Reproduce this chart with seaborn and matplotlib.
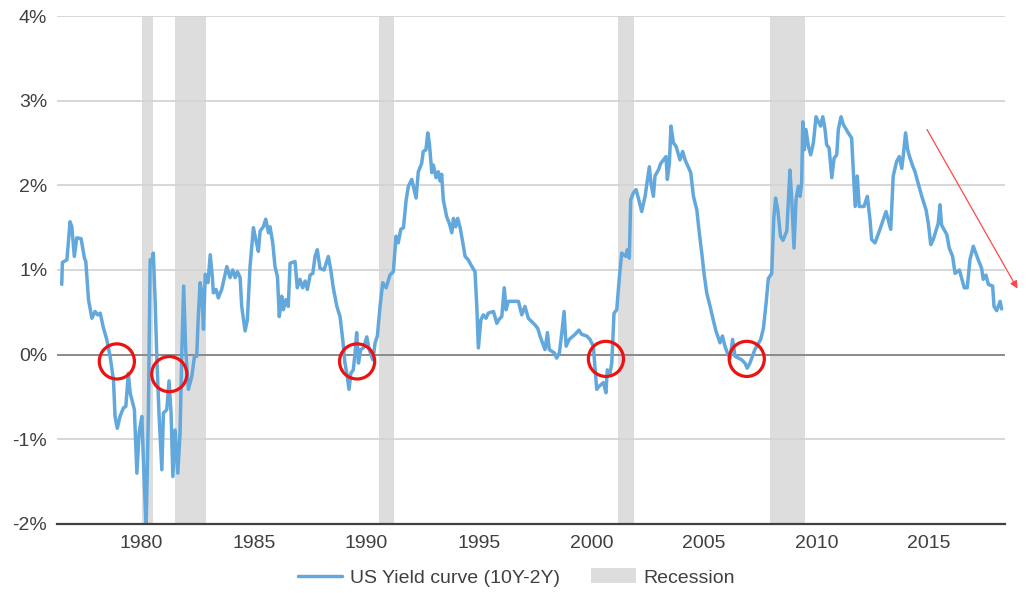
import matplotlib
matplotlib.use('Agg')
import matplotlib.pyplot as plt
from matplotlib.lines import Line2D
from matplotlib.patches import Patch
import numpy as np
import pandas as pd
import seaborn as sns

# US yield curve spread 10Y-2Y (%)
years = [1976.45, 1976.48, 1976.68, 1976.82, 1976.90, 1977.01, 1977.12, 1977.31, 1977.46, 1977.52,
         1977.64, 1977.79, 1977.93, 1978.05, 1978.16, 1978.30, 1978.45, 1978.60, 1978.75, 1978.82,
         1978.92, 1979.04, 1979.19, 1979.30, 1979.41, 1979.49, 1979.68, 1979.79, 1979.89, 1980.01,
         1980.08, 1980.20, 1980.30, 1980.38, 1980.45, 1980.52, 1980.60, 1980.68, 1980.78, 1980.90,
         1980.97, 1981.12, 1981.22, 1981.31, 1981.39, 1981.49, 1981.61, 1981.71, 1981.79, 1981.87,
         1981.96, 1982.08, 1982.23, 1982.35, 1982.45, 1982.52, 1982.60, 1982.67, 1982.75, 1982.83,
         1982.95, 1983.05, 1983.15, 1983.19, 1983.31, 1983.41, 1983.56, 1983.79, 1983.93, 1984.05,
         1984.16, 1984.26, 1984.38, 1984.45, 1984.60, 1984.70, 1984.82, 1984.97, 1985.09, 1985.19,
         1985.27, 1985.41, 1985.52, 1985.64, 1985.71, 1985.83, 1985.93, 1986.04, 1986.12, 1986.23,
         1986.30, 1986.42, 1986.52, 1986.60, 1986.82, 1986.92, 1987.04, 1987.16, 1987.27, 1987.37,
         1987.49, 1987.61, 1987.71, 1987.81, 1987.93, 1988.11, 1988.30, 1988.41, 1988.52, 1988.68,
         1988.82, 1988.94, 1989.04, 1989.12, 1989.22, 1989.30, 1989.41, 1989.49, 1989.56, 1989.64,
         1989.74, 1989.86, 1990.01, 1990.12, 1990.28, 1990.38, 1990.48, 1990.60, 1990.72, 1990.87,
         1991.04, 1991.19, 1991.31, 1991.41, 1991.52, 1991.64, 1991.76, 1991.86, 1992.01, 1992.08,
         1992.20, 1992.30, 1992.45, 1992.52, 1992.64, 1992.72, 1992.79, 1992.90, 1992.97, 1993.09,
         1993.19, 1993.27, 1993.34, 1993.41, 1993.56, 1993.68, 1993.79, 1993.86, 1993.96, 1994.05,
         1994.16, 1994.28, 1994.38, 1994.52, 1994.64, 1994.82, 1994.90, 1994.97, 1995.08, 1995.19,
         1995.31, 1995.41, 1995.64, 1995.79, 1995.90, 1996.01, 1996.12, 1996.20, 1996.30, 1996.45,
         1996.75, 1996.90, 1997.04, 1997.19, 1997.49, 1997.61, 1997.71, 1997.93, 1998.04, 1998.12,
         1998.35, 1998.45, 1998.57, 1998.68, 1998.78, 1998.87, 1999.01, 1999.27, 1999.44, 1999.56,
         1999.79, 1999.93, 2000.08, 2000.16, 2000.23, 2000.35, 2000.53, 2000.64, 2000.70, 2000.82,
         2000.90, 2001.00, 2001.12, 2001.24, 2001.34, 2001.53, 2001.59, 2001.68, 2001.74, 2001.86,
         2001.98, 2002.08, 2002.23, 2002.38, 2002.57, 2002.64, 2002.75, 2002.82, 2002.97, 2003.08,
         2003.31, 2003.37, 2003.46, 2003.53, 2003.64, 2003.76, 2003.93, 2004.05, 2004.16, 2004.41,
         2004.53, 2004.68, 2004.79, 2004.90, 2005.00, 2005.12, 2005.27, 2005.41, 2005.53, 2005.71,
         2005.82, 2005.93, 2006.04, 2006.16, 2006.27, 2006.38, 2006.67, 2006.82, 2006.92, 2007.04,
         2007.26, 2007.52, 2007.64, 2007.76, 2007.86, 2008.01, 2008.10, 2008.18, 2008.28, 2008.40,
         2008.51, 2008.68, 2008.82, 2008.90, 2009.00, 2009.09, 2009.19, 2009.27, 2009.34, 2009.39,
         2009.46, 2009.53, 2009.64, 2009.74, 2009.86, 2009.98, 2010.18, 2010.28, 2010.38, 2010.45,
         2010.56, 2010.68, 2010.78, 2010.90, 2010.97, 2011.09, 2011.19, 2011.41, 2011.56, 2011.64,
         2011.72, 2011.81, 2011.90, 2012.11, 2012.26, 2012.38, 2012.45, 2012.60, 2012.82, 2013.09,
         2013.30, 2013.41, 2013.56, 2013.68, 2013.79, 2013.86, 2013.96, 2014.05, 2014.16, 2014.26,
         2014.38, 2014.45, 2014.68, 2014.87, 2014.97, 2015.08, 2015.19, 2015.41, 2015.49, 2015.56,
         2015.79, 2015.90, 2016.05, 2016.16, 2016.35, 2016.57, 2016.70, 2016.82, 2016.97, 2017.19,
         2017.34, 2017.41, 2017.53, 2017.64, 2017.83, 2017.89, 2018.01, 2018.16, 2018.23]
spread = [0.83, 1.09, 1.12, 1.57, 1.51, 1.16, 1.38, 1.37, 1.14, 1.10,
          0.65, 0.43, 0.51, 0.47, 0.49, 0.32, 0.18, -0.02, -0.30, -0.73,
          -0.87, -0.73, -0.63, -0.61, -0.22, -0.45, -0.65, -1.40, -0.92, -0.73,
          -1.24, -2.05, -0.73, 1.12, 1.10, 1.20, 0.65, -0.06, -0.73, -1.36,
          -0.69, -0.65, -0.31, -0.69, -1.44, -0.89, -1.40, -0.92, 0.06, 0.81,
          0.06, -0.41, -0.26, -0.02, -0.02, 0.45, 0.85, 0.75, 0.30, 0.95,
          0.85, 1.18, 0.90, 0.73, 0.77, 0.67, 0.77, 1.04, 0.91, 1.00,
          0.91, 0.98, 0.91, 0.57, 0.28, 0.41, 1.04, 1.50, 1.34, 1.22,
          1.46, 1.51, 1.60, 1.44, 1.51, 1.32, 1.04, 0.92, 0.45, 0.69,
          0.53, 0.65, 0.57, 1.08, 1.10, 0.79, 0.89, 0.79, 0.87, 0.77,
          0.94, 0.96, 1.16, 1.24, 1.02, 1.00, 1.16, 1.00, 0.79, 0.57,
          0.45, 0.18, -0.10, -0.22, -0.41, -0.22, -0.18, 0.02, 0.26, -0.10,
          0.06, 0.08, 0.21, 0.06, -0.06, 0.14, 0.22, 0.57, 0.85, 0.79,
          0.94, 0.98, 1.40, 1.32, 1.48, 1.50, 1.83, 1.99, 2.07, 1.99,
          1.85, 2.16, 2.26, 2.40, 2.42, 2.62, 2.50, 2.15, 2.24, 2.09,
          2.16, 2.05, 2.13, 1.83, 1.63, 1.55, 1.44, 1.61, 1.51, 1.61,
          1.50, 1.32, 1.16, 1.12, 1.06, 0.98, 0.57, 0.08, 0.41, 0.47,
          0.43, 0.49, 0.51, 0.37, 0.42, 0.45, 0.79, 0.53, 0.63, 0.63,
          0.63, 0.47, 0.57, 0.43, 0.35, 0.31, 0.22, 0.06, 0.26, 0.06,
          0.02, -0.04, 0.02, 0.26, 0.51, 0.10, 0.18, 0.24, 0.29, 0.24,
          0.22, 0.18, 0.10, -0.18, -0.41, -0.37, -0.33, -0.45, -0.18, -0.22,
          -0.10, 0.49, 0.53, 0.92, 1.20, 1.16, 1.24, 1.14, 1.83, 1.91,
          1.95, 1.85, 1.69, 1.87, 2.22, 2.03, 1.87, 2.11, 2.18, 2.26,
          2.34, 2.07, 2.26, 2.70, 2.50, 2.46, 2.30, 2.40, 2.30, 2.15,
          1.87, 1.71, 1.44, 1.20, 0.96, 0.73, 0.57, 0.41, 0.28, 0.14,
          0.22, 0.10, 0.02, -0.04, 0.18, -0.02, -0.06, -0.10, -0.16, -0.10,
          0.06, 0.18, 0.31, 0.61, 0.90, 0.96, 1.61, 1.85, 1.71, 1.40,
          1.35, 1.46, 2.18, 1.83, 1.26, 1.83, 1.99, 1.87, 2.03, 2.75,
          2.42, 2.66, 2.46, 2.36, 2.50, 2.81, 2.70, 2.81, 2.66, 2.48,
          2.44, 2.09, 2.32, 2.36, 2.66, 2.81, 2.72, 2.62, 2.56, 2.15,
          1.75, 2.11, 1.75, 1.75, 1.87, 1.59, 1.36, 1.32, 1.48, 1.69,
          1.48, 2.11, 2.28, 2.34, 2.20, 2.36, 2.62, 2.42, 2.32, 2.24,
          2.16, 2.09, 1.87, 1.71, 1.55, 1.30, 1.36, 1.55, 1.77, 1.53,
          1.42, 1.26, 1.16, 0.96, 1.00, 0.79, 0.79, 1.12, 1.28, 1.12,
          1.02, 0.89, 0.94, 0.83, 0.81, 0.57, 0.52, 0.63, 0.54]

# NBER recessions (start, end)
rec_start = [1980.00, 1981.50, 1990.55, 2001.17, 2007.92]
rec_end = [1980.50, 1982.88, 1991.20, 2001.88, 2009.50]

# inversion markers (year, spread)
circle_x = [1978.90, 1981.23, 1989.58, 2000.64, 2006.90]
circle_y = [-0.08, -0.23, -0.08, -0.05, -0.05]

y_ticks = [-2, -1, 0, 1, 2, 3, 4]
x_ticks = [1980, 1985, 1990, 1995, 2000, 2005, 2010, 2015]

df = pd.DataFrame({'year': years, 'spread': spread})

sns.set_style('white')
plt.rcParams['font.family'] = ['Liberation Sans', 'DejaVu Sans']

LINE = '#62a8dc'
TXT = '#404040'
REC = '#dddddd'

fig = plt.figure(figsize=(10.29, 5.93), dpi=100)
ax = fig.add_axes([0.0554, 0.1164, 0.9213, 0.8566])

for s, e in zip(rec_start, rec_end):
    ax.axvspan(s, e, color=REC, lw=0, zorder=0)

for t in y_ticks:
    if t == 0:
        ax.axhline(t, color='#8a8a8a', lw=1.4, zorder=1)
    elif t != -2:
        ax.axhline(t, color='#d4d4d4', lw=1.3, zorder=1)

sns.lineplot(data=df, x='year', y='spread', ax=ax, color=LINE, lw=2.5,
             sort=False, zorder=3)

ax.scatter(circle_x, circle_y, s=640, facecolors='none', edgecolors='#ee1111',
           linewidths=2.3, zorder=4)

ax.annotate('', xy=(2018.93, 0.78), xytext=(2014.91, 2.66),
            arrowprops=dict(arrowstyle='-|>', color='#ff4848', lw=0.9,
                            mutation_scale=11, shrinkA=0, shrinkB=0),
            annotation_clip=False, zorder=5)

ax.set_xlim(1976.24, 2018.38)
ax.set_ylim(-2, 4)
ax.set_xticks(x_ticks)
ax.set_yticks(y_ticks)
ax.set_yticklabels([f'{t}%' for t in y_ticks])
ax.set_xlabel('')
ax.set_ylabel('')

for side in ['top', 'right', 'left']:
    ax.spines[side].set_visible(False)
ax.spines['bottom'].set_color('#404040')
ax.spines['bottom'].set_linewidth(1.6)
ax.spines['bottom'].set_zorder(6)

ax.tick_params(axis='x', direction='out', length=5, width=1.3, color='#404040',
               labelsize=14, labelcolor=TXT, pad=3)
ax.tick_params(axis='y', length=0, labelsize=14, labelcolor=TXT, pad=7)

handles = [Line2D([0], [0], color=LINE, lw=2.5),
           Patch(facecolor=REC, edgecolor='none')]
fig.legend(handles, ['US Yield curve (10Y-2Y)', 'Recession'], loc='center',
           bbox_to_anchor=(0.502, 0.026), ncol=2, frameon=False, fontsize=14,
           labelcolor=TXT, handlelength=2.3, handleheight=0.8,
           columnspacing=1.6, handletextpad=0.4)

plt.savefig('out.png', dpi=100)
plt.close()
